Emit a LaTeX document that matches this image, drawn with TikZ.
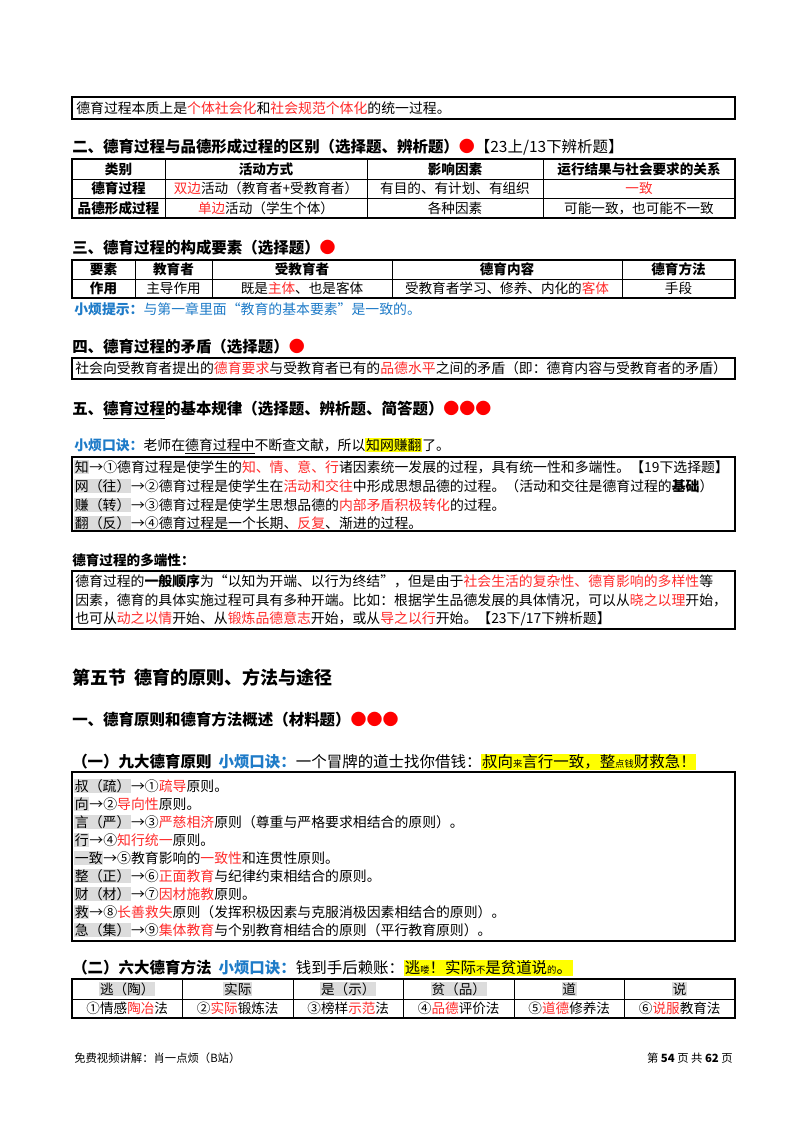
\documentclass[tikz,border=0pt]{standalone}
\usepackage{fontspec}
\setmainfont{Noto Sans CJK SC}
\usepackage{xcolor}
\definecolor{rd}{HTML}{FF2A2A}
\definecolor{bl}{HTML}{1E7BC8}
\definecolor{yl}{HTML}{FFFF00}
\definecolor{gb}{HTML}{DCDCDC}
\newcommand\R[1]{\textcolor{rd}{#1}}
\newcommand\B[1]{\textcolor{bl}{\bfseries #1}}
\newcommand\Y[1]{{\setlength{\fboxsep}{0.5pt}\colorbox{yl}{#1}}}
\newcommand\G[1]{{\setlength{\fboxsep}{0.5pt}\colorbox{gb}{#1}}}
\newcommand\dotr{\textcolor{red}{\large●}}
\begin{document}
\begin{tikzpicture}[x=0.75pt,y=-0.75pt,
  txt/.style={anchor=west,inner sep=0pt,font=\fontsize{10.4pt}{12pt}\selectfont},
  hd/.style={anchor=west,inner sep=0pt,font=\fontsize{11.6pt}{13pt}\selectfont\bfseries},
  cell/.style={inner sep=0pt,font=\fontsize{10.2pt}{12pt}\selectfont},
  hcell/.style={inner sep=0pt,font=\fontsize{10.2pt}{12pt}\selectfont\bfseries},
  box/.style={draw,line width=1.3pt},
  thin/.style={line width=0.7pt}]
\useasboundingbox (0,0) rectangle (800,1132);
\fill[white] (0,0) rectangle (800,1132);

% box 1
\draw[box] (72,97) rectangle (735,119);
\node[txt] (b1) at (76,108) {德育过程本质上是\R{个体社会化}和\R{社会规范个体化}的统一过程。};

% heading 2
\node[hd] (h2) at (72,147) {二、德育过程与品德形成过程的区别（选择题、辨析题）\dotr{\mdseries【23上/13下辨析题】}};
\draw[box] (72,159) rectangle (735,218);
\foreach \y in {179,198} \draw[thin] (72,\y) -- (735,\y);
\foreach \x in {165,367,543} \draw[thin] (\x,159) -- (\x,218);
\node[hcell] (t1a) at (118.5,169) {类别};
\node[hcell] (t1b) at (266,169) {活动方式};
\node[hcell] (t1c) at (455,169) {影响因素};
\node[hcell] (t1d) at (639,169) {运行结果与社会要求的关系};
\node[hcell] (t1e) at (118.5,188.5) {德育过程};
\node[cell] (t1f) at (266,188.5) {\R{双边}活动（教育者+受教育者）};
\node[cell] (t1g) at (455,188.5) {有目的、有计划、有组织};
\node[cell] (t1h) at (639,188.5) {\R{一致}};
\node[hcell] (t1i) at (118.5,208) {品德形成过程};
\node[cell] (t1j) at (266,208) {\R{单边}活动（学生个体）};
\node[cell] (t1k) at (455,208) {各种因素};
\node[cell] (t1l) at (639,208) {可能一致，也可能不一致};

% heading 3
\node[hd] (h3) at (72,248) {三、德育过程的构成要素（选择题）\dotr};
\draw[box] (72,260) rectangle (735,298);
\draw[thin] (72,279) -- (735,279);
\foreach \x in {135,212,392,622} \draw[thin] (\x,260) -- (\x,298);
\node[hcell] (t2a) at (103.5,269.5) {要素};
\node[hcell] (t2b) at (173.5,269.5) {教育者};
\node[hcell] (t2c) at (302,269.5) {受教育者};
\node[hcell] (t2d) at (507,269.5) {德育内容};
\node[hcell] (t2e) at (678.5,269.5) {德育方法};
\node[hcell] (t2f) at (103.5,288.5) {作用};
\node[cell] (t2g) at (173.5,288.5) {主导作用};
\node[cell] (t2h) at (302,288.5) {既是\R{主体}、也是客体};
\node[cell] (t2i) at (507,288.5) {受教育者学习、修养、内化的\R{客体}};
\node[cell] (t2j) at (678.5,288.5) {手段};
\node[txt] (tip) at (74,309) {\B{小烦提示：}\textcolor{bl}{与第一章里面“教育的基本要素”是一致的。}};

% heading 4
\node[hd] (h4) at (72,347) {四、德育过程的矛盾（选择题）\dotr};
\draw[box] (72,358) rectangle (735,379);
\node[txt] (b4) at (75,368.5) {社会向受教育者提出的\R{德育要求}与受教育者已有的\R{品德水平}之间的矛盾（即：德育内容与受教育者的矛盾）};

% heading 5
\node[hd] (h5) at (72,410) {五、\underline{德育过程}的基本规律（选择题、辨析题、简答题）\dotr\dotr\dotr};
\node[txt] (k5) at (74,446) {\B{小烦口诀：}老师在\underline{德育过程中}不断查文献，所以\Y{知网赚翻}了。};
\draw[box] (72,457) rectangle (735,531);
\node[txt] (l51) at (74,467) {\G{知}→①德育过程是使学生的\R{知、情、意、行}诸因素统一发展的过程，具有统一性和多端性。【19下选择题】};
\node[txt] (l52) at (74,486) {\G{网（往）}→②德育过程是使学生在\R{活动和交往}中形成思想品德的过程。（活动和交往是德育过程的\textbf{基础}）};
\node[txt] (l53) at (74,505) {\G{赚（转）}→③德育过程是使学生思想品德的\R{内部矛盾积极转化}的过程。};
\node[txt] (l54) at (74,523) {\G{翻（反）}→④德育过程是一个长期、\R{反复}、渐进的过程。};

\node[hd,font=\fontsize{10.2pt}{12pt}\selectfont\bfseries] (dd) at (72,560) {德育过程的多端性：};
\draw[box] (72,571) rectangle (735,629);
\node[txt] (l61) at (75,581) {德育过程的\textbf{一般顺序}为“以知为开端、以行为终结”，但是由于\R{社会生活的复杂性、德育影响的多样性}等};
\node[txt] (l62) at (75,600) {因素，德育的具体实施过程可具有多种开端。比如：根据学生品德发展的具体情况，可以从\R{晓之以理}开始，};
\node[txt] (l63) at (75,619) {也可从\R{动之以情}开始、从\R{锻炼品德意志}开始，或从\R{导之以行}开始。【23下/17下辨析题】};

% section
\node[hd,font=\fontsize{13.5pt}{16pt}\selectfont\bfseries] (s5) at (72,678) {第五节\ \ 德育的原则、方法与途径};
\node[hd] (h51) at (72,720) {一、德育原则和德育方法概述（材料题）\dotr\dotr\dotr};

\node[hd] (h511) at (72,762) {（一）九大德育原则\ \ \B{小烦口诀：}{\mdseries 一个冒牌的道士找你借钱：}\Y{\mdseries 叔向{\scriptsize 来}言行一致，整{\scriptsize 点钱}财救急！}};
\draw[box] (72,772) rectangle (735,941);
\node[txt] (p1) at (74,786) {\G{叔（疏）}→①\R{疏导}原则。};
\node[txt] (p2) at (74,804) {\G{向}→②\R{导向性}原则。};
\node[txt] (p3) at (74,822) {\G{言（严）}→③\R{严慈相济}原则（尊重与严格要求相结合的原则）。};
\node[txt] (p4) at (74,840) {\G{行}→④\R{知行统一}原则。};
\node[txt] (p5) at (74,858) {\G{一致}→⑤教育影响的\R{一致性}和连贯性原则。};
\node[txt] (p6) at (74,876) {\G{整（正）}→⑥\R{正面教育}与纪律约束相结合的原则。};
\node[txt] (p7) at (74,894) {\G{财（材）}→⑦\R{因材施教}原则。};
\node[txt] (p8) at (74,912) {\G{救}→⑧\R{长善救失}原则（发挥积极因素与克服消极因素相结合的原则）。};
\node[txt] (p9) at (74,930) {\G{急（集）}→⑨\R{集体教育}与个别教育相结合的原则（平行教育原则）。};

\node[hd] (h512) at (72,968) {（二）六大德育方法\ \ \B{小烦口诀：}{\mdseries 钱到手后赖账：}\Y{\mdseries 逃{\scriptsize 喽}！实际{\scriptsize 不}是贫道说{\scriptsize 的}。}};
\draw[box] (72,979) rectangle (735,1018);
\draw[thin] (72,999) -- (735,999);
\foreach \i in {1,...,5} \draw[thin] (72+110.5*\i,979) -- (72+110.5*\i,1018);
\node[cell] (m1) at (127.25,989) {\G{逃（陶）}};
\node[cell] (m2) at (237.75,989) {\G{实际}};
\node[cell] (m3) at (348.25,989) {\G{是（示）}};
\node[cell] (m4) at (458.75,989) {\G{贫（品）}};
\node[cell] (m5) at (569.25,989) {\G{道}};
\node[cell] (m6) at (679.75,989) {\G{说}};
\node[cell] (n1) at (127.25,1008.5) {①情感\R{陶冶}法};
\node[cell] (n2) at (237.75,1008.5) {②\R{实际}锻炼法};
\node[cell] (n3) at (348.25,1008.5) {③榜样\R{示范}法};
\node[cell] (n4) at (458.75,1008.5) {④\R{品德}评价法};
\node[cell] (n5) at (569.25,1008.5) {⑤\R{道德}修养法};
\node[cell] (n6) at (679.75,1008.5) {⑥\R{说服}教育法};

\node[txt,font=\fontsize{8.5pt}{10pt}\selectfont] (f1) at (74,1058) {免费视频讲解：肖一点烦（B站）};
\node[txt,anchor=east,font=\fontsize{8.5pt}{10pt}\selectfont] (f2) at (733,1058) {第 \textbf{54} 页\ 共 \textbf{62} 页};
\end{tikzpicture}
\end{document}
